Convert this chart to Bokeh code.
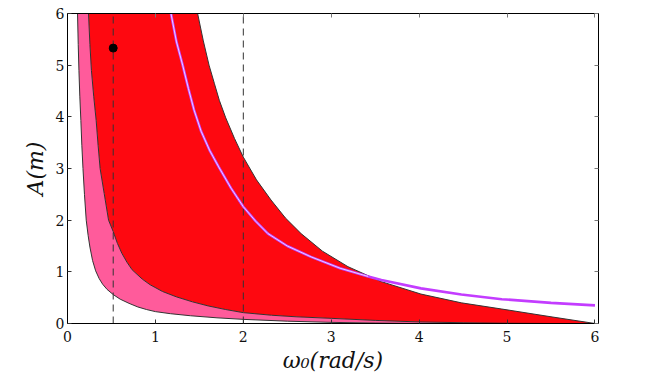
from bokeh.plotting import figure
from bokeh.models import LinearAxis, FixedTicker, Range1d, CustomJSTickFormatter
from bokeh.embed import file_html
from bokeh.resources import INLINE

# ---- data ----
ticks_x = [0, 1, 2, 3, 4, 5, 6]
ticks_y = [0, 1, 2, 3, 4, 5, 6]

# outer (left) boundary of the pink band
L_w = [0.114, 0.122, 0.130, 0.140, 0.152, 0.163, 0.176, 0.193, 0.213, 0.235, 0.255, 0.285,
       0.32, 0.36, 0.40, 0.45, 0.52, 0.60, 0.70, 0.80, 0.90, 1.0, 1.17, 1.4, 1.7, 2.0,
       2.5, 3.0, 3.5, 4.0]
L_A = [6.0, 5.4, 4.9, 4.4, 3.93, 3.45, 3.0, 2.5, 2.0, 1.7, 1.48, 1.22,
       1.02, 0.87, 0.76, 0.66, 0.56, 0.47, 0.39, 0.32, 0.27, 0.23, 0.19, 0.15, 0.11, 0.08,
       0.045, 0.022, 0.008, 0.0]

# pink / red boundary
M_w = [0.239, 0.255, 0.272, 0.298, 0.326, 0.348, 0.371, 0.417, 0.467, 0.52, 0.568, 0.618,
       0.675, 0.735, 0.85, 0.94, 1.08, 1.24, 1.42, 1.6, 1.8, 2.0, 2.32, 2.6, 3.0, 3.5,
       4.0, 4.5, 5.0, 5.5]
M_A = [6.0, 5.4, 4.9, 4.4, 3.93, 3.45, 3.0, 2.52, 2.0, 1.78, 1.55, 1.36,
       1.19, 1.04, 0.86, 0.75, 0.62, 0.515, 0.42, 0.34, 0.27, 0.21, 0.16, 0.13, 0.10, 0.06,
       0.03, 0.015, 0.005, 0.0]

# upper boundary of the red band
U_w = [1.48, 1.545, 1.61, 1.67, 1.727, 1.80, 1.90, 2.0, 2.15, 2.315, 2.48, 2.657, 2.9,
       3.19, 3.57, 4.02, 4.48, 4.94, 5.5, 6.0]
U_A = [6.0, 5.47, 5.0, 4.65, 4.32, 3.98, 3.58, 3.22, 2.78, 2.39, 2.04, 1.74, 1.40,
       1.10, 0.81, 0.57, 0.40, 0.28, 0.13, 0.0]

# purple curve
P_w = [1.177, 1.24, 1.31, 1.375, 1.44, 1.52, 1.62, 1.72, 1.86, 2.0, 2.14, 2.28, 2.5, 2.77,
       3.1, 3.42, 3.57, 4.02, 4.48, 4.94, 5.5, 6.0]
P_A = [6.0, 5.45, 5.0, 4.55, 4.13, 3.72, 3.34, 3.03, 2.62, 2.26, 1.98, 1.74, 1.50, 1.29,
       1.07, 0.91, 0.84, 0.68, 0.56, 0.47, 0.40, 0.35]

# dashed reference frequencies and marked point
dash_w = [0.52, 2.0]
pt_w = [0.52]
pt_A = [5.33]

SERIF = "DejaVu Serif"

p = figure(width=664, height=377, x_range=Range1d(0, 6.04), y_range=Range1d(0, 6),
           output_backend="svg", toolbar_location=None,
           min_border_left=67, min_border_right=66, min_border_top=13, min_border_bottom=54)
p.xgrid.visible = False
p.ygrid.visible = False
p.outline_line_color = "black"
p.outline_line_alpha = 1.0
p.outline_line_width = 1
p.background_fill_color = "white"
p.border_fill_color = "white"

# fills
pink_x = L_w + M_w[::-1]
pink_y = L_A + M_A[::-1]
p.patch(pink_x, pink_y, fill_color="#ff5b9b", line_color=None)
red_x = M_w + U_w[::-1]
red_y = M_A + U_A[::-1]
p.patch(red_x, red_y, fill_color="#fe0810", line_color=None)

# boundary lines
for xs, ys in ((L_w, L_A), (M_w, M_A), (U_w, U_A)):
    p.line(xs, ys, line_color="#333333", line_width=1)

# dashed verticals
p.segment(x0=dash_w, y0=[0] * len(dash_w), x1=dash_w, y1=[6] * len(dash_w),
          line_color="#333333", line_width=1, line_dash="7 5")

# purple curve (double line over the red band)
p.line(P_w, P_A, line_color="#c33cff", line_width=2.6)
inner = [i for i, w in enumerate(P_w) if w <= 3.45]
p.line([P_w[i] for i in inner], [P_A[i] for i in inner], line_color="#f2e6ff", line_width=0.9)

# marked point
p.scatter(pt_w, pt_A, size=8, fill_color="black", line_color="black")

# axes
for ax in (p.xaxis[0], p.yaxis[0]):
    ax.major_tick_in = 4
    ax.major_tick_out = 0
    ax.minor_tick_line_color = None
    ax.axis_line_color = "black"
    ax.major_tick_line_color = "#333333"
    ax.major_label_text_font = SERIF
    ax.major_label_text_font_size = "14px"
    ax.major_label_text_color = "#111111"
    ax.axis_label_text_font = SERIF
    ax.axis_label_text_font_size = "22px"
    ax.axis_label_text_font_style = "italic"
    ax.axis_label_text_color = "#111111"

p.xaxis[0].ticker = FixedTicker(ticks=ticks_x)
p.yaxis[0].ticker = FixedTicker(ticks=ticks_y)
p.xaxis[0].axis_label = "ω₀(rad/s)"
p.yaxis[0].axis_label = "A(m)"
p.xaxis[0].major_label_standoff = 7
p.yaxis[0].major_label_standoff = 3
p.xaxis[0].axis_label_standoff = 3
p.yaxis[0].axis_label_standoff = 5

blank = CustomJSTickFormatter(code="return ''")
top = LinearAxis(ticker=FixedTicker(ticks=ticks_x), formatter=blank)
right = LinearAxis(ticker=FixedTicker(ticks=ticks_y), formatter=blank)
for ax in (top, right):
    ax.major_tick_in = 4
    ax.major_tick_out = 0
    ax.minor_tick_line_color = None
    ax.axis_line_color = "black"
    ax.major_tick_line_color = "#777777"
    ax.major_label_standoff = 0
p.add_layout(top, "above")
p.add_layout(right, "right")

open("out.html", "w").write(file_html(p, INLINE))
